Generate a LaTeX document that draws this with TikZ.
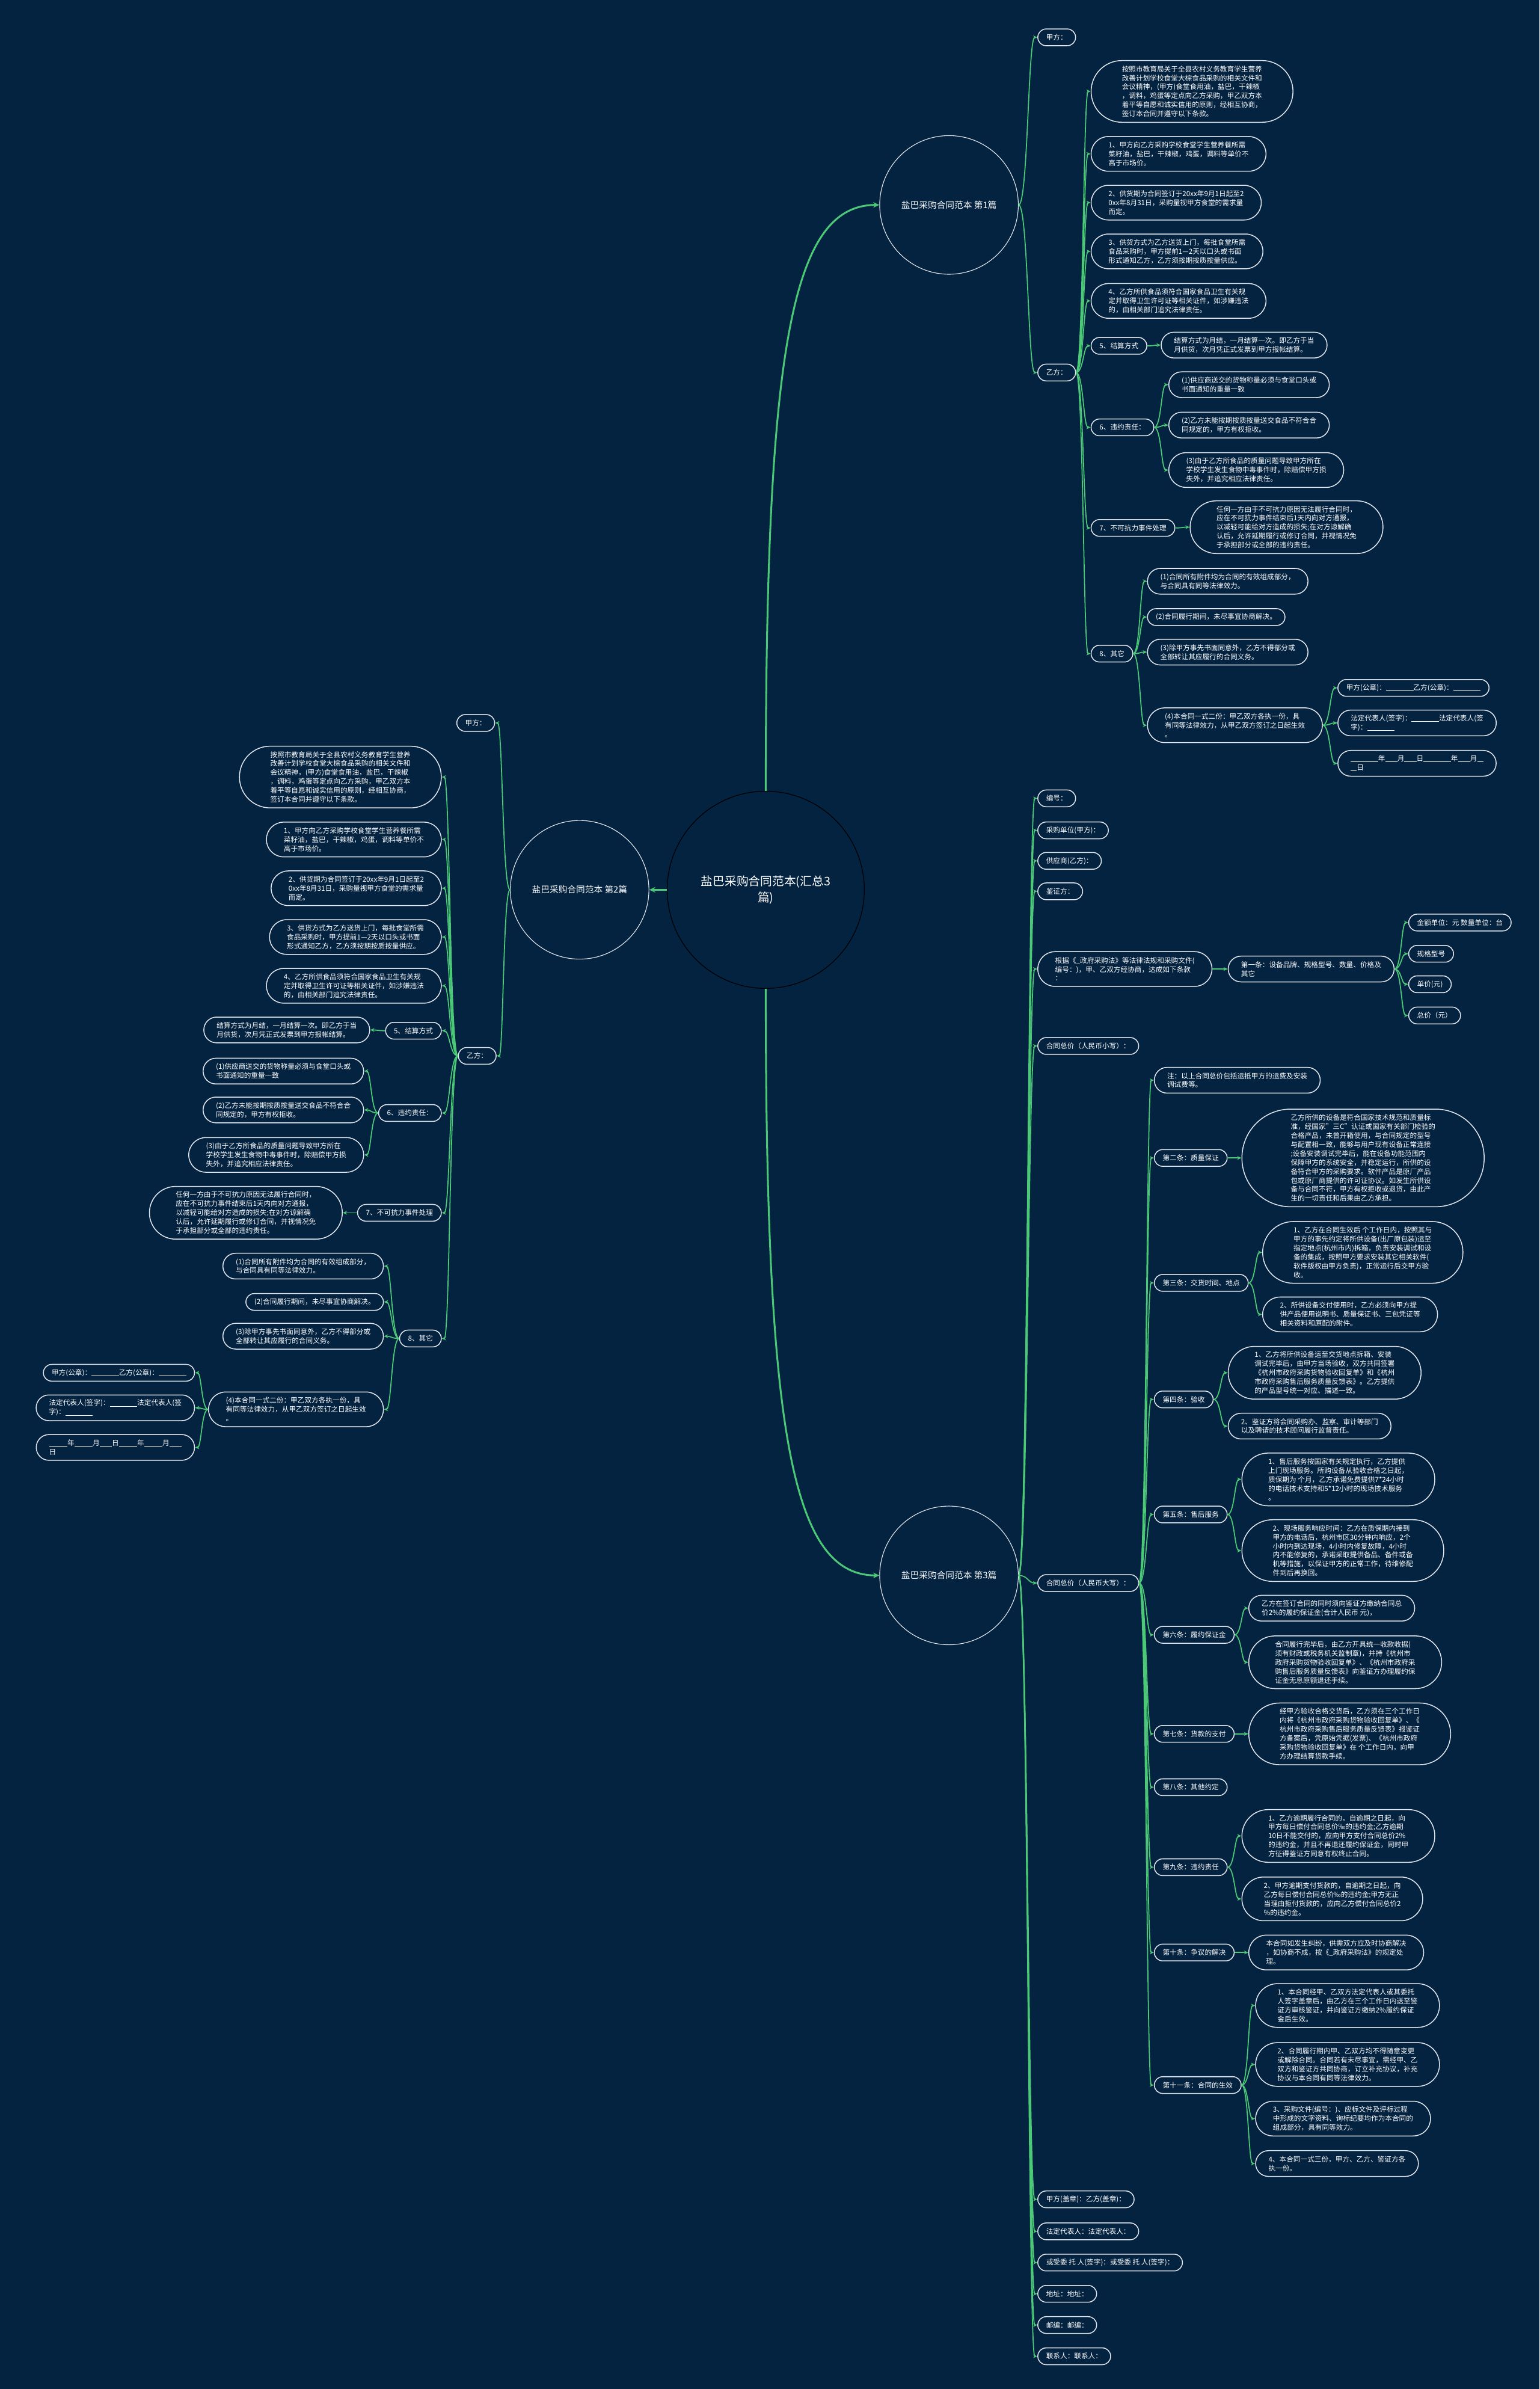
\documentclass[tikz,border=0pt]{standalone}
\usepackage{fontspec}
\setmainfont{Noto Sans CJK SC}
\usepackage{tikz}
\usetikzlibrary{arrows.meta,calc}
\definecolor{navybg}{RGB}{3,35,64}
\definecolor{stem}{RGB}{76,201,118}
\definecolor{rim}{RGB}{226,230,236}
\newcommand\bodyfont{\fontsize{4.6pt}{5.9pt}\selectfont}
\newcommand\blk[1]{\rule[-0.6pt]{#1pt}{0.35pt}}
\newcommand\branch[2]{\draw[edge] let \p1=(#1), \p2=(#2) in (\p1) .. controls ({0.5*\x1+0.5*\x2},\y1) and ({0.5*\x1+0.5*\x2},\y2) .. (\p2);}
\tikzset{
  nlines/.style={minimum height={(#1-1)*5.9pt+11pt}, rounded corners={(#1-1)*2.95pt+5.45pt},
    inner xsep={(#1-1)*2.95pt+5.5pt}},
  topic/.style={rectangle, draw=rim, line width=0.6pt, fill=navybg, text=white,
    inner ysep=1pt, align=left, font=\bodyfont, nlines=1},
  rtopic/.style={topic, anchor=west},
  ltopic/.style={topic, anchor=east},
  part/.style={circle, draw=rim, line width=0.45pt, fill=navybg, text=white,
    minimum size=91pt, inner sep=0pt, font=\fontsize{5.8pt}{7pt}\selectfont},
  hub/.style={circle, draw=black, line width=0.5pt, fill=navybg, text=white,
    minimum size=129.4pt, inner sep=0pt, align=center, font=\fontsize{7.8pt}{10.5pt}\selectfont},
  edge/.style={draw=stem, line width=0.7pt, -{Stealth[length=2.8pt,width=2.4pt]}},
  trunk/.style={draw=stem, line width=1.2pt, -{Stealth[length=4pt,width=3.6pt]}}
}
\begin{document}
\begin{tikzpicture}[x=1pt,y=-1pt]
\fill[navybg] (0,0) rectangle (1010.6,1568);
\useasboundingbox (0,0) rectangle (1010.6,1568);

% centre and the three parts
\node[hub] (root) at (502.7,584) {盐巴采购合同范本(汇总3\\篇)};
\node[part] (c1) at (623,134.5) {盐巴采购合同范本 第1篇};
\node[part] (c2) at (380.5,584) {盐巴采购合同范本 第2篇};
\node[part] (c3) at (623,1034) {盐巴采购合同范本 第3篇};

% part 1
\node[rtopic] (s1jia) at (681,24.5) {甲方：};
\node[rtopic] (s1yi) at (681,244.5) {乙方：};
\node[rtopic, nlines=6] (s1intro) at (716,60) {按照市教育局关于全县农村义务教育学生营养\\改善计划学校食堂大棕食品采购的相关文件和\\会议精神，(甲方)食堂食用油，盐巴，干辣椒\\，调料，鸡蛋等定点向乙方采购，甲乙双方本\\着平等自愿和诚实信用的原则，经相互协商，\\签订本合同并遵守以下条款。};
\node[rtopic, nlines=3] (s1t1) at (716,101) {1、甲方向乙方采购学校食堂学生营养餐所需\\菜籽油，盐巴，干辣椒，鸡蛋，调料等单价不\\高于市场价。};
\node[rtopic, nlines=3] (s1t2) at (716,133) {2、供货期为合同签订于20xx年9月1日起至2\\0xx年8月31日，采购量视甲方食堂的需求量\\而定。};
\node[rtopic, nlines=3] (s1t3) at (716,165) {3、供货方式为乙方送货上门，每批食堂所需\\食品采购时，甲方提前1—2天以口头或书面\\形式通知乙方，乙方须按期按质按量供应。};
\node[rtopic, nlines=3] (s1t4) at (716,197.5) {4、乙方所供食品须符合国家食品卫生有关规\\定并取得卫生许可证等相关证件，如涉嫌违法\\的，由相关部门追究法律责任。};
\node[rtopic] (s1t5) at (716,227) {5、结算方式};
\node[rtopic, nlines=2] (s1t5a) at (762,226.5) {结算方式为月结，一月结算一次。即乙方于当\\月供货，次月凭正式发票到甲方报帐结算。};
\node[rtopic] (s1t6) at (716,280.5) {6、违约责任：};
\node[rtopic, nlines=2] (s1t6a) at (767,252.5) {(1)供应商送交的货物称量必须与食堂口头或\\书面通知的重量一致};
\node[rtopic, nlines=2] (s1t6b) at (767,279) {(2)乙方未能按期按质按量送交食品不符合合\\同规定的，甲方有权拒收。};
\node[rtopic, nlines=3] (s1t6c) at (767,308.5) {(3)由于乙方所食品的质量问题导致甲方所在\\学校学生发生食物中毒事件时，除赔偿甲方损\\失外，并追究相应法律责任。};
\node[rtopic] (s1t7) at (716,346.5) {7、不可抗力事件处理};
\node[rtopic, nlines=5] (s1t7a) at (781,346) {任何一方由于不可抗力原因无法履行合同时，\\应在不可抗力事件结束后1天内向对方通报，\\以减轻可能给对方造成的损失;在对方谅解确\\认后，允许延期履行或修订合同，并视情况免\\于承担部分或全部的违约责任。};
\node[rtopic] (s1t8) at (716,429) {8、其它};
\node[rtopic, nlines=2] (s1t8a) at (753,381.5) {(1)合同所有附件均为合同的有效组成部分，\\与合同具有同等法律效力。};
\node[rtopic] (s1t8b) at (753,405) {(2)合同履行期间，未尽事宜协商解决。};
\node[rtopic, nlines=2] (s1t8c) at (753,428) {(3)除甲方事先书面同意外，乙方不得部分或\\全部转让其应履行的合同义务。};
\node[rtopic, nlines=3] (s1t8d) at (753,476) {(4)本合同一式二份：甲乙双方各执一份，具\\有同等法律效力，从甲乙双方签订之日起生效\\。};
\node[rtopic] (s1sig1) at (878,451.5) {甲方(公章)：\blk{18}乙方(公章)：\blk{18}};
\node[rtopic, nlines=2] (s1sig2) at (878,474.5) {法定代表人(签字)：\blk{18}法定代表人(签\\字)：\blk{18}};
\node[rtopic, nlines=2] (s1sig3) at (878,501) {\blk{18}年\blk{8}月\blk{8}日\blk{18}年\blk{8}月\blk{4}\\\blk{4}日};

% part 2
\node[ltopic] (s2jia) at (325,474.5) {甲方：};
\node[ltopic] (s2yi) at (326,693) {乙方：};
\node[ltopic, nlines=6] (s2intro) at (290,510) {按照市教育局关于全县农村义务教育学生营养\\改善计划学校食堂大棕食品采购的相关文件和\\会议精神，(甲方)食堂食用油，盐巴，干辣椒\\，调料，鸡蛋等定点向乙方采购，甲乙双方本\\着平等自愿和诚实信用的原则，经相互协商，\\签订本合同并遵守以下条款。};
\node[ltopic, nlines=3] (s2t1) at (290,551) {1、甲方向乙方采购学校食堂学生营养餐所需\\菜籽油，盐巴，干辣椒，鸡蛋，调料等单价不\\高于市场价。};
\node[ltopic, nlines=3] (s2t2) at (290,583) {2、供货期为合同签订于20xx年9月1日起至2\\0xx年8月31日，采购量视甲方食堂的需求量\\而定。};
\node[ltopic, nlines=3] (s2t3) at (290,615) {3、供货方式为乙方送货上门，每批食堂所需\\食品采购时，甲方提前1—2天以口头或书面\\形式通知乙方，乙方须按期按质按量供应。};
\node[ltopic, nlines=3] (s2t4) at (290,647) {4、乙方所供食品须符合国家食品卫生有关规\\定并取得卫生许可证等相关证件，如涉嫌违法\\的，由相关部门追究法律责任。};
\node[ltopic] (s2t5) at (290,676.5) {5、结算方式};
\node[ltopic, nlines=2] (s2t5a) at (243,676) {结算方式为月结，一月结算一次。即乙方于当\\月供货，次月凭正式发票到甲方报帐结算。};
\node[ltopic] (s2t6) at (290,730.5) {6、违约责任：};
\node[ltopic, nlines=2] (s2t6a) at (239,703) {(1)供应商送交的货物称量必须与食堂口头或\\书面通知的重量一致};
\node[ltopic, nlines=2] (s2t6b) at (239,728.5) {(2)乙方未能按期按质按量送交食品不符合合\\同规定的，甲方有权拒收。};
\node[ltopic, nlines=3] (s2t6c) at (239,758) {(3)由于乙方所食品的质量问题导致甲方所在\\学校学生发生食物中毒事件时，除赔偿甲方损\\失外，并追究相应法律责任。};
\node[ltopic] (s2t7) at (290,796) {7、不可抗力事件处理};
\node[ltopic, nlines=5] (s2t7a) at (225,796) {任何一方由于不可抗力原因无法履行合同时，\\应在不可抗力事件结束后1天内向对方通报，\\以减轻可能给对方造成的损失;在对方谅解确\\认后，允许延期履行或修订合同，并视情况免\\于承担部分或全部的违约责任。};
\node[ltopic] (s2t8) at (290,878.5) {8、其它};
\node[ltopic, nlines=2] (s2t8a) at (252,831) {(1)合同所有附件均为合同的有效组成部分，\\与合同具有同等法律效力。};
\node[ltopic] (s2t8b) at (252,854.5) {(2)合同履行期间，未尽事宜协商解决。};
\node[ltopic, nlines=2] (s2t8c) at (252,877) {(3)除甲方事先书面同意外，乙方不得部分或\\全部转让其应履行的合同义务。};
\node[ltopic, nlines=3] (s2t8d) at (252,925) {(4)本合同一式二份：甲乙双方各执一份，具\\有同等法律效力，从甲乙双方签订之日起生效\\。};
\node[ltopic] (s2sig1) at (128,901) {甲方(公章)：\blk{18}乙方(公章)：\blk{18}};
\node[ltopic, nlines=2] (s2sig2) at (128,924) {法定代表人(签字)：\blk{18}法定代表人(签\\字)：\blk{18}};
\node[ltopic, nlines=2] (s2sig3) at (128,950) {\blk{12}年\blk{12}月\blk{8}日\blk{12}年\blk{12}月\blk{8}\\日};

% part 3
\node[rtopic] (s3no) at (681,524) {编号：};
\node[rtopic] (s3buyer) at (681,545) {采购单位(甲方)：};
\node[rtopic] (s3seller) at (681,565) {供应商(乙方)：};
\node[rtopic] (s3witness) at (681,585) {鉴证方：};
\node[rtopic, nlines=3] (s3basis) at (681,636) {根据《\_政府采购法》等法律法规和采购文件(\\编号：)，甲、乙双方经协商，达成如下条款\\：};
\node[rtopic, nlines=2] (s3art1) at (806,636) {第一条：设备品牌、规格型号、数量、价格及\\其它};
\node[rtopic] (s3unit) at (924.5,605.5) {金额单位：元 数量单位：台};
\node[rtopic] (s3spec) at (924.5,626) {规格型号};
\node[rtopic] (s3price) at (924.5,646) {单价(元)};
\node[rtopic] (s3total) at (924.5,666.5) {总价（元）};
\node[rtopic] (s3small) at (681,686.5) {合同总价（人民币小写）：};
\node[rtopic] (s3big) at (681,1039) {合同总价（人民币大写）：};
\node[rtopic, nlines=2] (s3note) at (757.5,709) {注：以上合同总价包括运抵甲方的运费及安装\\调试费等。};
\node[rtopic] (s3art2) at (757.5,760) {第二条：质量保证};
\node[rtopic, nlines=10] (s3art2a) at (815,760) {乙方所供的设备是符合国家技术规范和质量标\\准，经国家"三C"认证或国家有关部门检验的\\合格产品，未曾开箱使用，与合同规定的型号\\与配置相一致，能够与用户现有设备正常连接\\;设备安装调试完毕后，能在设备功能范围内\\保障甲方的系统安全，并稳定运行，所供的设\\备符合甲方的采购要求。软件产品是原厂产品\\包或原厂商提供的许可证协议。如发生所供设\\备与合同不符，甲方有权拒收或退货，由此产\\生的一切责任和后果由乙方承担。};
\node[rtopic] (s3art3) at (757.5,842) {第三条：交货时间、地点};
\node[rtopic, nlines=6] (s3art3a) at (828.6,822) {1、乙方在合同生效后 个工作日内，按照其与\\甲方的事先约定将所供设备(出厂原包装)运至\\指定地点(杭州市内)拆箱，负责安装调试和设\\备的集成，按照甲方要求安装其它相关软件(\\软件版权由甲方负责)，正常运行后交甲方验\\收。};
\node[rtopic, nlines=3] (s3art3b) at (828.6,862.7) {2、所供设备交付使用时，乙方必须向甲方提\\供产品使用说明书、质量保证书、三包凭证等\\相关资料和原配的附件。};
\node[rtopic] (s3art4) at (757.5,918.5) {第四条：验收};
\node[rtopic, nlines=5] (s3art4a) at (806,901) {1、乙方将所供设备运至交货地点拆箱、安装\\调试完毕后，由甲方当场验收，双方共同签署\\《杭州市政府采购货物验收回复单》和《杭州\\市政府采购售后服务质量反馈表》。乙方提供\\的产品型号统一对应、描述一致。};
\node[rtopic, nlines=2] (s3art4b) at (806,936) {2、鉴证方将会同采购办、监察、审计等部门\\以及聘请的技术顾问履行监督责任。};
\node[rtopic] (s3art5) at (757.5,994) {第五条：售后服务};
\node[rtopic, nlines=5] (s3art5a) at (815,971) {1、售后服务按国家有关规定执行，乙方提供\\上门现场服务。所购设备从验收合格之日起，\\质保期为 个月，乙方承诺免费提供7*24小时\\的电话技术支持和5*12小时的现场技术服务\\。};
\node[rtopic, nlines=6] (s3art5b) at (815,1017.7) {2、现场服务响应时间：乙方在质保期内接到\\甲方的电话后，杭州市区30分钟内响应，2个\\小时内到达现场，4小时内修复故障，4小时\\内不能修复的，承诺采取提供备品、备件或备\\机等措施，以保证甲方的正常工作，待维修配\\件到后再换回。};
\node[rtopic] (s3art6) at (757.5,1073) {第六条：履约保证金};
\node[rtopic, nlines=2] (s3art6a) at (819.5,1055.5) {乙方在签订合同的同时须向鉴证方缴纳合同总\\价2\%的履约保证金(合计人民币 元)，};
\node[rtopic, nlines=5] (s3art6b) at (819.5,1091) {合同履行完毕后，由乙方开具统一收款收据(\\须有财政或税务机关监制章)，并持《杭州市\\政府采购货物验收回复单》、《杭州市政府采\\购售后服务质量反馈表》向鉴证方办理履约保\\证金无息原额退还手续。};
\node[rtopic] (s3art7) at (757.5,1138) {第七条：货款的支付};
\node[rtopic, nlines=6] (s3art7a) at (819.5,1138) {经甲方验收合格交货后，乙方须在三个工作日\\内将《杭州市政府采购货物验收回复单》、《\\杭州市政府采购售后服务质量反馈表》报鉴证\\方备案后，凭原始凭据(发票)、《杭州市政府\\采购货物验收回复单》在 个工作日内，向甲\\方办理结算货款手续。};
\node[rtopic] (s3art8) at (757.5,1173) {第八条：其他约定};
\node[rtopic] (s3art9) at (757.5,1225.5) {第九条：违约责任};
\node[rtopic, nlines=5] (s3art9a) at (815,1205) {1、乙方逾期履行合同的，自逾期之日起，向\\甲方每日偿付合同总价‰的违约金;乙方逾期\\10日不能交付的，应向甲方支付合同总价2\%\\的违约金，并且不再退还履约保证金，同时甲\\方征得鉴证方同意有权终止合同。};
\node[rtopic, nlines=4] (s3art9b) at (815,1246.3) {2、甲方逾期支付货款的，自逾期之日起，向\\乙方每日偿付合同总价‰的违约金;甲方无正\\当理由拒付货款的，应向乙方偿付合同总价2\\\%的违约金。};
\node[rtopic] (s3art10) at (757.5,1281.5) {第十条：争议的解决};
\node[rtopic, nlines=3] (s3art10a) at (819.5,1281.5) {本合同如发生纠纷，供需双方应及时协商解决\\，如协商不成，按《\_政府采购法》的规定处\\理。};
\node[rtopic] (s3art11) at (757.5,1368.5) {第十一条：合同的生效};
\node[rtopic, nlines=4] (s3art11a) at (824,1316.3) {1、本合同经甲、乙双方法定代表人或其委托\\人签字盖章后，由乙方在三个工作日内送至鉴\\证方审核鉴证，并向鉴证方缴纳2\%履约保证\\金后生效。};
\node[rtopic, nlines=4] (s3art11b) at (824,1355) {2、合同履行期内甲、乙双方均不得随意变更\\或解除合同。合同若有未尽事宜，需经甲、乙\\双方和鉴证方共同协商，订立补充协议，补充\\协议与本合同有同等法律效力。};
\node[rtopic, nlines=3] (s3art11c) at (824,1390.5) {3、采购文件(编号：)、应标文件及评标过程\\中形成的文字资料、询标纪要均作为本合同的\\组成部分，具有同等效力。};
\node[rtopic, nlines=2] (s3art11d) at (824,1420) {4、本合同一式三份，甲方、乙方、鉴证方各\\执一份。};
\node[rtopic] (s3seal) at (681,1443.5) {甲方(盖章)：乙方(盖章)：};
\node[rtopic] (s3rep) at (681,1464.5) {法定代表人：法定代表人：};
\node[rtopic] (s3agent) at (681,1485) {或受委 托 人(签字)：或受委 托 人(签字)：};
\node[rtopic] (s3addr) at (681,1505.5) {地址：地址：};
\node[rtopic] (s3zip) at (681,1526) {邮编：邮编：};
\node[rtopic] (s3contact) at (681,1546.5) {联系人：联系人：};

% connectors
\draw[trunk] (root.north) .. controls +(0,-289) and +(-58,0) .. (c1.west);
\draw[trunk] (root.south) .. controls +(0,289) and +(-58,0) .. (c3.west);
\draw[trunk] (root.west) -- (c2.east);

\foreach \k in {s1jia,s1yi} {\branch{c1.east}{\k.west}}
\foreach \k in {s1intro,s1t1,s1t2,s1t3,s1t4,s1t5,s1t6,s1t7,s1t8} {\branch{s1yi.east}{\k.west}}
\branch{s1t5.east}{s1t5a.west}
\foreach \k in {s1t6a,s1t6b,s1t6c} {\branch{s1t6.east}{\k.west}}
\branch{s1t7.east}{s1t7a.west}
\foreach \k in {s1t8a,s1t8b,s1t8c,s1t8d} {\branch{s1t8.east}{\k.west}}
\foreach \k in {s1sig1,s1sig2,s1sig3} {\branch{s1t8d.east}{\k.west}}

\foreach \k in {s2jia,s2yi} {\branch{c2.west}{\k.east}}
\foreach \k in {s2intro,s2t1,s2t2,s2t3,s2t4,s2t5,s2t6,s2t7,s2t8} {\branch{s2yi.west}{\k.east}}
\branch{s2t5.west}{s2t5a.east}
\foreach \k in {s2t6a,s2t6b,s2t6c} {\branch{s2t6.west}{\k.east}}
\branch{s2t7.west}{s2t7a.east}
\foreach \k in {s2t8a,s2t8b,s2t8c,s2t8d} {\branch{s2t8.west}{\k.east}}
\foreach \k in {s2sig1,s2sig2,s2sig3} {\branch{s2t8d.west}{\k.east}}

\foreach \k in {s3no,s3buyer,s3seller,s3witness,s3basis,s3small,s3big,s3seal,s3rep,s3agent,s3addr,s3zip,s3contact} {\branch{c3.east}{\k.west}}
\branch{s3basis.east}{s3art1.west}
\foreach \k in {s3unit,s3spec,s3price,s3total} {\branch{s3art1.east}{\k.west}}
\foreach \k in {s3note,s3art2,s3art3,s3art4,s3art5,s3art6,s3art7,s3art8,s3art9,s3art10,s3art11} {\branch{s3big.east}{\k.west}}
\branch{s3art2.east}{s3art2a.west}
\foreach \k in {s3art3a,s3art3b} {\branch{s3art3.east}{\k.west}}
\foreach \k in {s3art4a,s3art4b} {\branch{s3art4.east}{\k.west}}
\foreach \k in {s3art5a,s3art5b} {\branch{s3art5.east}{\k.west}}
\foreach \k in {s3art6a,s3art6b} {\branch{s3art6.east}{\k.west}}
\branch{s3art7.east}{s3art7a.west}
\foreach \k in {s3art9a,s3art9b} {\branch{s3art9.east}{\k.west}}
\branch{s3art10.east}{s3art10a.west}
\foreach \k in {s3art11a,s3art11b,s3art11c,s3art11d} {\branch{s3art11.east}{\k.west}}
\end{tikzpicture}
\end{document}
